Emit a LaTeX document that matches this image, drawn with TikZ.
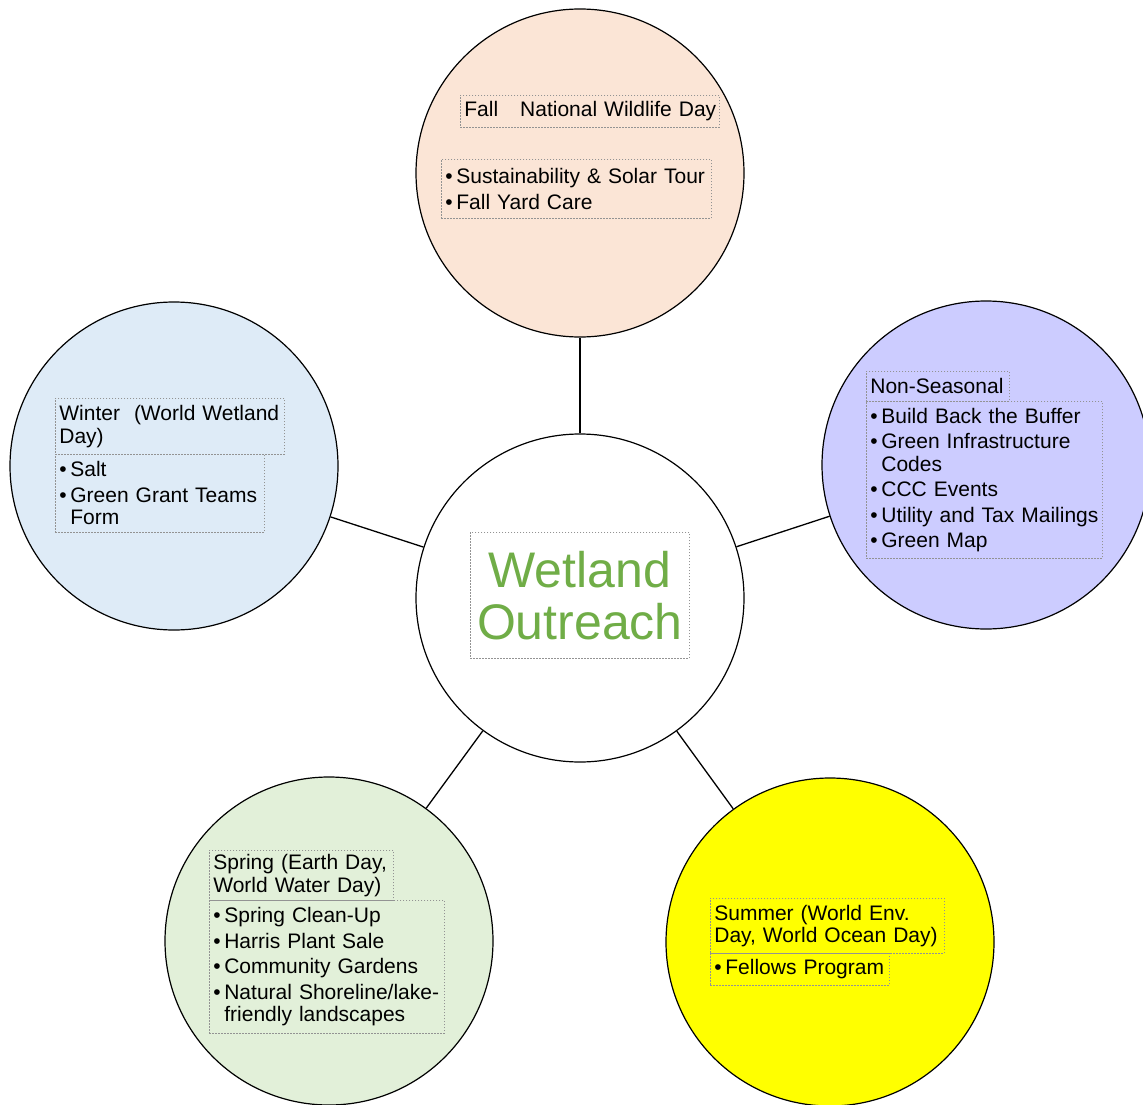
\documentclass[tikz,border=0pt]{standalone}
\usepackage{fontspec}
\setmainfont{Liberation Sans}
\definecolor{fallc}{HTML}{FBE5D6}
\definecolor{winterc}{HTML}{DEEBF7}
\definecolor{nonc}{HTML}{CCCCFF}
\definecolor{springc}{HTML}{E2F0D9}
\definecolor{summerc}{HTML}{FFFF00}
\definecolor{titlegreen}{HTML}{70AD47}
\newcommand{\bu}{\makebox[11pt][l]{\textbullet}}
\newcommand{\ind}{\hspace*{11pt}}
\begin{document}
\begin{tikzpicture}[x=1pt,y=-1pt]
\tikzset{
  bubble/.style={circle, draw=black, line width=1.2pt, minimum size=328pt, inner sep=0pt},
  tbox/.style={draw=gray!85, line width=0.7pt, dash pattern=on 1.5pt off 1.5pt,
     anchor=north west, align=left, inner xsep=4pt, inner ysep=3pt,
     font=\fontsize{21}{22.5}\selectfont},
  link/.style={draw=black, line width=1.3pt}
}
\useasboundingbox (0,0) rectangle (1143,1105);
% bubbles
\node[bubble, fill=white]   (c)  at (580,598) {};
\node[bubble, fill=fallc]   (f)  at (580,173) {};
\node[bubble, fill=winterc] (w)  at (174,466) {};
\node[bubble, fill=nonc]    (n)  at (986,465) {};
\node[bubble, fill=springc] (sp) at (329,941) {};
\node[bubble, fill=summerc] (su) at (830,942) {};
% connectors
\draw[link] (c) -- (f);
\draw[link] (c) -- (w);
\draw[link] (c) -- (n);
\draw[link] (c) -- (sp);
\draw[link] (c) -- (su);
% center title
\node[tbox, text width=211pt, minimum height=126pt, align=center,
      font=\fontsize{50}{52}\selectfont, text=titlegreen] (ct) at (470,532)
  {Wetland\\Outreach};
% Fall
\node[tbox, text width=251pt, minimum height=32pt] (ft) at (460,95)
  {\mbox{Fall\hspace{22pt}National Wildlife Day}};
\node[tbox, text width=262pt, minimum height=59pt] (fl) at (441,159)
  {\mbox{\bu Sustainability \& Solar Tour}\\[3pt]\bu Fall Yard Care};
% Winter
\node[tbox, text width=221pt, minimum height=56pt] (wt) at (55,398)
  {Winter\ \ (World Wetland\\Day)};
\node[tbox, text width=201pt, minimum height=78pt] (wl) at (55,454)
  {\bu Salt\\[3pt]\mbox{\bu Green Grant Teams}\\\ind Form};
% Non-seasonal
\node[tbox, text width=135pt, minimum height=30pt] (nt) at (866,371)
  {Non-Seasonal};
\node[tbox, text width=228pt, minimum height=157pt] (nl) at (866,401)
  {\bu Build Back the Buffer\\[3pt]\mbox{\bu Green Infrastructure}\\\ind Codes\\[3pt]\bu CCC Events\\[3pt]\mbox{\bu Utility and Tax Mailings}\\[3pt]\bu Green Map};
% Spring
\node[tbox, text width=176pt, minimum height=50pt] (st) at (209,850)
  {\mbox{Spring (Earth Day,}\\World Water Day)};
\node[tbox, text width=227pt, minimum height=133pt] (sl) at (209,900)
  {\bu Spring Clean-Up\\[3pt]\bu Harris Plant Sale\\[3pt]\mbox{\bu Community Gardens}\\[3pt]\mbox{\bu Natural Shoreline/lake-}\\\ind friendly landscapes};
% Summer
\node[tbox, text width=226pt, minimum height=55pt] (ut) at (710,898)
  {Summer (World Env.\\\mbox{Day, World Ocean Day)}};
\node[tbox, text width=171pt, minimum height=32pt] (ul) at (710,953)
  {\bu Fellows Program};
\end{tikzpicture}
\end{document}
